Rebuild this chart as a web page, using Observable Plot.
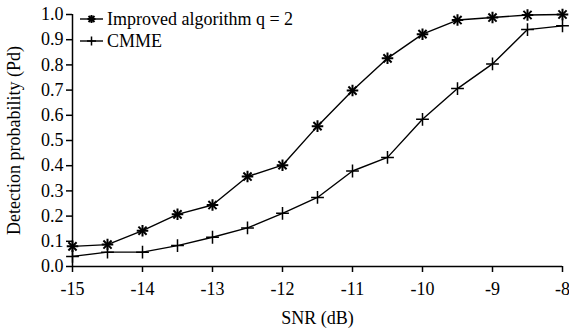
<!DOCTYPE html>
<html>
<head>
<meta charset="utf-8">
<script src="https://cdn.jsdelivr.net/npm/d3@7"></script>
<script src="https://cdn.jsdelivr.net/npm/@observablehq/plot@0.6"></script>
<style>
  html, body { margin: 0; padding: 0; background: #fff; }
  #wrap { position: relative; width: 569px; height: 330px; }
  #wrap svg, #wrap svg text { font-family: "Liberation Serif", "Times New Roman", Times, serif !important; }
  #wrap svg { font-size: 18px !important; }
  #legend { position: absolute; left: 80px; top: 8px; font-family: "Liberation Serif", "Times New Roman", Times, serif; font-size: 18px; color: #000; }
  .row { display: flex; align-items: center; height: 22px; }
  .row svg { margin-right: 4px; }
</style>
</head>
<body>
<div id="wrap"></div>
<script>
const snr = [-15, -14.5, -14, -13.5, -13, -12.5, -12, -11.5, -11, -10.5, -10, -9.5, -9, -8.5, -8];
const improved = [0.08, 0.087, 0.142, 0.207, 0.244, 0.357, 0.402, 0.557, 0.698, 0.826, 0.922, 0.978, 0.988, 0.998, 1.0];
const cmme = [0.04, 0.057, 0.057, 0.083, 0.116, 0.153, 0.211, 0.274, 0.379, 0.433, 0.584, 0.706, 0.804, 0.94, 0.955];
const seriesNames = ["Improved algorithm q = 2", "CMME"];
const xTicks = [-15, -14, -13, -12, -11, -10, -9, -8];
const yTicks = [0, 0.1, 0.2, 0.3, 0.4, 0.5, 0.6, 0.7, 0.8, 0.9, 1.0];

const dImp = snr.map((x, i) => ({x, y: improved[i]}));
const dCm = snr.map((x, i) => ({x, y: cmme[i]}));

const chart = Plot.plot({
  width: 569,
  height: 330,
  marginLeft: 72,
  marginRight: 7,
  marginTop: 14,
  marginBottom: 64,
  style: {color: "#000", background: "#fff", overflow: "visible"},
  x: {domain: [-15, -8], ticks: xTicks, tickFormat: d => `${d}`, tickSize: 6, tickPadding: 10,
      label: "SNR (dB)", labelAnchor: "center", labelOffset: 57, labelArrow: "none"},
  y: {domain: [0, 1], ticks: yTicks, tickFormat: d3.format(".1f"), tickSize: 6, tickPadding: 3,
      label: "Detection probability (Pd)", labelAnchor: "center", labelOffset: 65, labelArrow: "none"},
  marks: [
    Plot.ruleY([0], {stroke: "#000", strokeWidth: 1.5}),
    Plot.ruleX([-15], {stroke: "#000", strokeWidth: 1.5}),
    Plot.line(dImp, {x: "x", y: "y", stroke: "#000", strokeWidth: 1.4}),
    Plot.line(dCm, {x: "x", y: "y", stroke: "#000", strokeWidth: 1.4}),
    Plot.dot(dImp, {x: "x", y: "y", symbol: "plus", r: 3.8, stroke: "#000", strokeWidth: 2}),
    Plot.dot(dImp, {x: "x", y: "y", symbol: "times", r: 3.8, stroke: "#000", strokeWidth: 2}),
    Plot.dot(dCm, {x: "x", y: "y", symbol: "plus", r: 4.2, stroke: "#000", strokeWidth: 1.5})
  ]
});
chart.style.position = "absolute";
chart.style.left = "0px";
chart.style.top = "0px";
const wrap = document.getElementById("wrap");
wrap.appendChild(chart);
chart.querySelectorAll("[aria-label$='tick'] path").forEach(p => { p.setAttribute("stroke-width", "1.5"); });

const legend = document.createElement("div");
legend.id = "legend";
const ast = `<line x1="0" y1="6" x2="23" y2="6" stroke="#000" stroke-width="1.4"/>
  <path d="M11.5,2V10M7.5,6H15.5M8.5,3L14.5,9M14.5,3L8.5,9" stroke="#000" stroke-width="2"/>`;
const pls = `<line x1="0" y1="6" x2="23" y2="6" stroke="#000" stroke-width="1.4"/>
  <path d="M11.5,1.5V10.5M7,6H16" stroke="#000" stroke-width="1.5"/>`;
[[ast, seriesNames[0]], [pls, seriesNames[1]]].forEach(([sym, name]) => {
  const r = document.createElement("div");
  r.className = "row";
  r.innerHTML = `<svg width="23" height="12">${sym}</svg><span>${name}</span>`;
  legend.appendChild(r);
});
wrap.appendChild(legend);
</script>
</body>
</html>
